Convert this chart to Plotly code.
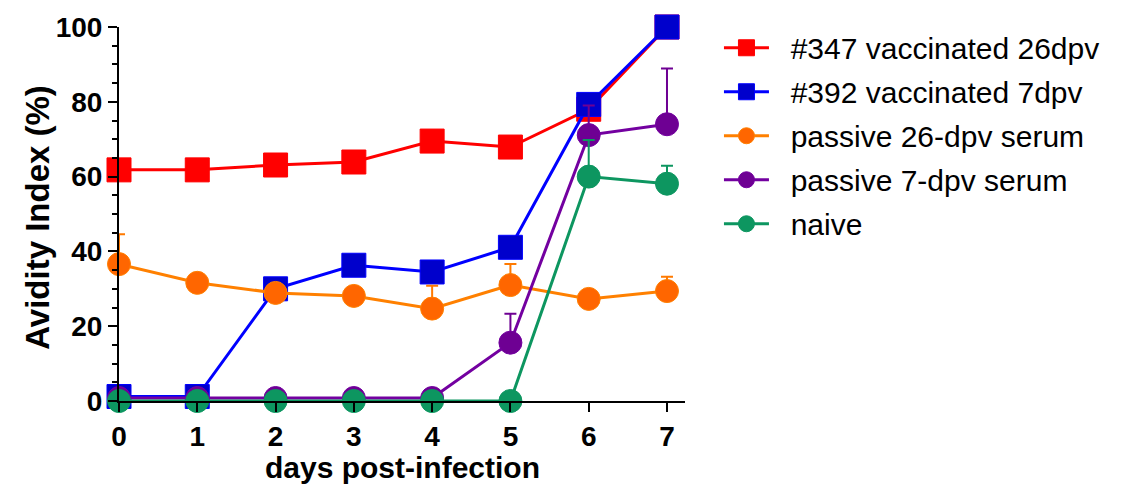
import plotly.graph_objects as go

days = [0, 1, 2, 3, 4, 5, 6, 7]

vacc347 = [61.8, 61.8, 63.1, 63.9, 69.5, 67.9, 78.0, 100.0]
vacc392 = [1.2, 1.2, 30.0, 36.3, 34.5, 41.1, 79.3, 100.0]
passive26 = [36.6, 31.6, 28.9, 28.1, 24.7, 31.0, 27.3, 29.4]
passive26_err = [8.0, 0, 0, 0, 6.1, 5.6, 0, 3.8]
passive7 = [0.8, 0.8, 0.8, 0.8, 0.8, 15.6, 71.1, 74.0]
passive7_err = [0, 0, 0, 0, 0, 7.7, 7.9, 14.9]
naive = [0.0, 0.0, 0.0, 0.0, 0.0, 0.0, 60.0, 58.1]
naive_err = [0, 0, 0, 0, 0, 0, 9.8, 4.8]

series = [
    ("#347 vaccinated 26dpv", vacc347, None, "square", 24, "#FF0000", "#FF0000", "#FF0000"),
    ("#392 vaccinated 7dpv", vacc392, None, "square", 24, "#0000CC", "#0000FF", "#0000FF"),
    ("passive 26-dpv serum", passive26, passive26_err, "circle", 23, "#FF6600", "#FF8000", "#FF7A00"),
    ("passive 7-dpv serum", passive7, passive7_err, "circle", 23, "#6E0093", "#7300A0", "#6E0093"),
    ("naive", naive, naive_err, "circle", 23, "#0D9660", "#0D9660", "#0D9660"),
]

fig = go.Figure()
for i, (name, vals, err, sym, size, mcol, lcol, ecol) in enumerate(series):
    kw = {}
    if err is not None:
        kw["error_y"] = dict(type="data", symmetric=False, array=err,
                             arrayminus=[0] * len(err), color=ecol,
                             thickness=2, width=6)
    fig.add_trace(go.Scatter(
        x=days, y=vals, name="\u00a0\u00a0" + name, mode="lines+markers",
        line=dict(color=lcol, width=3),
        marker=dict(symbol=sym, size=size, color=mcol,
                    line=dict(color=lcol, width=1)),
        cliponaxis=False, legendgroup=f"g{i}", **kw))

axis_font = dict(family="Liberation Sans, Arial, sans-serif", size=28,
                 color="black", weight="bold")

fig.update_layout(
    width=1122, height=489,
    margin=dict(l=119, r=437, t=24, b=88),
    paper_bgcolor="white", plot_bgcolor="white",
    showlegend=True,
    legend=dict(x=1.06, y=1.014, xanchor="left", yanchor="top",
                font=dict(family="Liberation Sans, Arial, sans-serif", size=30, color="black"),
                tracegroupgap=2, traceorder="grouped", itemwidth=45,
                bgcolor="rgba(0,0,0,0)"),
    xaxis=dict(range=[0, 7.23], tickvals=days, ticktext=[str(d) for d in days],
               showline=True, linecolor="black", linewidth=2,
               ticks="outside", ticklen=9, tickwidth=2, tickcolor="black",
               tickfont=axis_font, showgrid=False, zeroline=False),
    yaxis=dict(range=[0, 100], tickvals=[0, 20, 40, 60, 80, 100],
               showline=True, linecolor="black", linewidth=2,
               ticks="outside", ticklen=9, tickwidth=2, tickcolor="black",
               minor=dict(dtick=5, ticks="outside", ticklen=5, tickwidth=2,
                          tickcolor="black", showgrid=False),
               tickfont=axis_font, showgrid=False, zeroline=False),
    annotations=[
        dict(text="days post-infection", xref="paper", yref="paper",
             x=0.5, y=-0.178, xanchor="center", yanchor="middle", showarrow=False,
             font=dict(family="Liberation Sans, Arial, sans-serif", size=30,
                       color="black", weight="bold")),
        dict(text="Avidity Index (%)", xref="paper", yref="paper",
             x=-0.143, y=0.49, xanchor="center", yanchor="middle", showarrow=False,
             textangle=-90,
             font=dict(family="Liberation Sans, Arial, sans-serif", size=33,
                       color="black", weight="bold")),
    ],
)

fig.write_html("out.html")
